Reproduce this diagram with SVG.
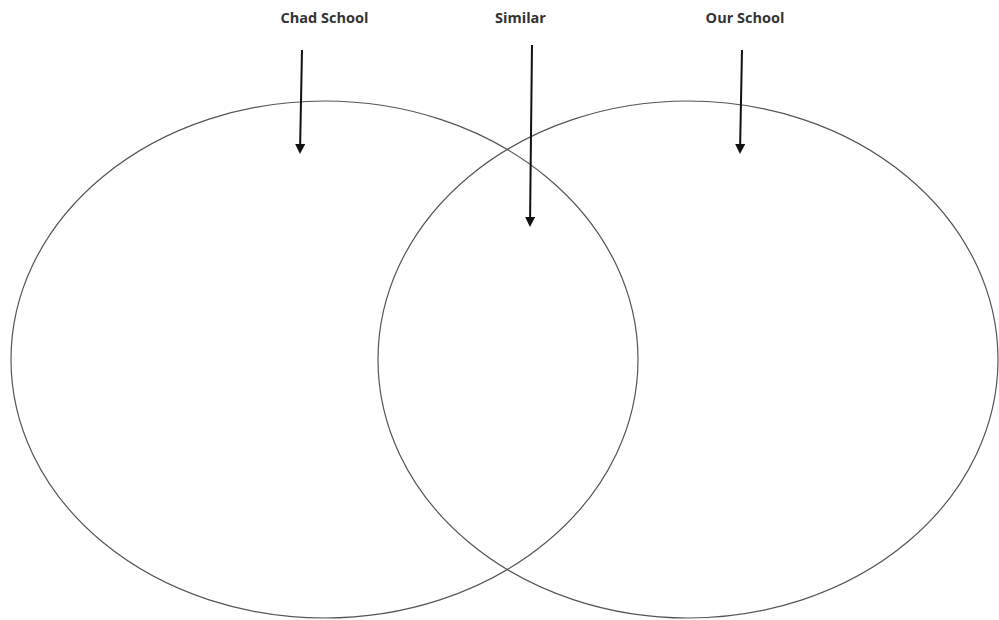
<svg xmlns="http://www.w3.org/2000/svg" width="999" height="620" viewBox="0 0 999 620">
<defs>
<style>
.lbl{font-family:"Open Sans","Liberation Sans",sans-serif;font-weight:bold;font-size:14.5px;fill:#333;text-anchor:middle}
.circ{fill:none;stroke:#555;stroke-width:1.2}
.arr{stroke:#111;stroke-width:2;fill:none;marker-end:url(#ah)}
</style>
<marker id="ah" viewBox="0 0 10 10" refX="8" refY="5" markerWidth="5" markerHeight="5" orient="auto" markerUnits="strokeWidth">
<path d="M0,0 L10,5 L0,10 z" fill="#111"/>
</marker>
</defs>
<rect width="999" height="620" fill="#fff"/>
<g id="chad-school">
<ellipse class="circ" cx="324.5" cy="359.5" rx="313.5" ry="258.5"/>
<text class="lbl" x="324.5" y="23">Chad School</text>
</g>
<g id="our-school">
<ellipse class="circ" cx="688" cy="359.5" rx="310" ry="258.5"/>
<text class="lbl" x="745" y="23">Our School</text>
</g>
<g id="similar">
<text class="lbl" x="520.5" y="23">Similar</text>
</g>
<g id="connectors">
<line class="arr" x1="302" y1="50" x2="300" y2="152"/>
<line class="arr" x1="532" y1="45" x2="530" y2="225"/>
<line class="arr" x1="742" y1="50" x2="740" y2="152"/>
</g>
</svg>
